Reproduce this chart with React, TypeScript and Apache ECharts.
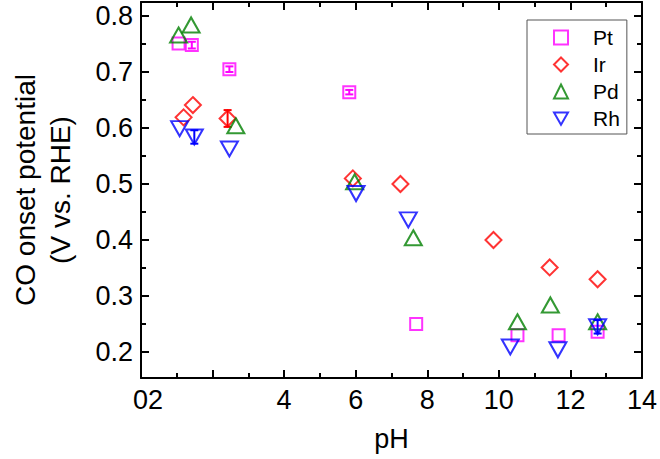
import React, { useEffect, useRef } from "react";
import * as echarts from "echarts";

const seriesNames = ["Pt", "Ir", "Pd", "Rh"];
const colors = ["#FF00FF", "#FF0000", "#008000", "#0000FF"];

const ptX = [1.05, 1.42, 2.47, 5.82, 7.69, 10.52, 11.67, 12.76];
const ptY = [0.751, 0.748, 0.705, 0.664, 0.25, 0.23, 0.23, 0.236];
const ptErr = [0, 0.006, 0.005, 0.004, 0, 0, 0, 0];

const irX = [1.19, 1.45, 2.42, 5.92, 7.25, 9.85, 11.42, 12.76];
const irY = [0.619, 0.641, 0.617, 0.51, 0.5, 0.4, 0.351, 0.33];
const irErr = [0, 0, 0.015, 0, 0, 0, 0, 0];

const pdX = [1.05, 1.4, 2.65, 5.97, 7.61, 10.52, 11.44, 12.76];
const pdY = [0.766, 0.784, 0.604, 0.504, 0.404, 0.254, 0.284, 0.254];
const pdErr = [0, 0, 0, 0, 0, 0, 0, 0];

const rhX = [1.08, 1.49, 2.47, 6.01, 7.47, 10.32, 11.65, 12.76];
const rhY = [0.599, 0.584, 0.5625, 0.483, 0.436, 0.209, 0.204, 0.245];
const rhErr = [0, 0.012, 0, 0, 0, 0, 0, 0.012];

const yMajorTicks = [0.2, 0.3, 0.4, 0.5, 0.6, 0.7, 0.8];
const yMinorTicks = [0.25, 0.35, 0.45, 0.55, 0.65, 0.75];

const FONT = "'Liberation Sans', Arial, sans-serif";

const symbols = [
  "rect",
  "diamond",
  "triangle",
  "path://M0,0L20,0L10,17.5Z",
];
const symbolSizes: any[] = [12, 16, [17, 15], [17, 15]];
const legendSymbols = ["rect", "diamond", "triangle", "path://M0,0L20,0L10,17.5Z"];

export default function App() {
  const ref = useRef<HTMLDivElement>(null);
  useEffect(() => {
    if (!ref.current) return;
    const chart = echarts.init(ref.current, undefined, { renderer: "svg" });
    const xs = [ptX, irX, pdX, rhX];
    const ys = [ptY, irY, pdY, rhY];
    const errs = [ptErr, irErr, pdErr, rhErr];

    const scatter = seriesNames.map((name, i) => ({
      name,
      type: "scatter",
      xAxisIndex: 0,
      yAxisIndex: 0,
      symbol: symbols[i],
      symbolSize: symbolSizes[i],
      itemStyle: { color: "transparent", borderColor: colors[i], borderWidth: 2 },
      data: xs[i].map((x, j) => [x, ys[i][j]]),
      z: 3 + i,
    }));

    const errSeries = seriesNames.map((name, i) => ({
      name: name + " err",
      type: "custom",
      xAxisIndex: 0,
      yAxisIndex: 0,
      z: 3 + i,
      data: xs[i]
        .map((x, j) => [x, ys[i][j], errs[i][j]])
        .filter((d) => d[2] > 0),
      renderItem: (params: any, api: any) => {
        const x = api.value(0);
        const y = api.value(1);
        const e = api.value(2);
        const top = api.coord([x, y + e]);
        const bot = api.coord([x, y - e]);
        const style = { stroke: colors[i], lineWidth: 2 };
        return {
          type: "group",
          children: [
            { type: "line", shape: { x1: top[0], y1: top[1], x2: bot[0], y2: bot[1] }, style },
            { type: "line", shape: { x1: top[0] - 4, y1: top[1], x2: top[0] + 4, y2: top[1] }, style },
            { type: "line", shape: { x1: bot[0] - 4, y1: bot[1], x2: bot[0] + 4, y2: bot[1] }, style },
          ],
        };
      },
    }));

    const lineStyle = { color: "#000", width: 2 };
    const yMin = 0.1536;
    const yMax = 0.825;

    chart.setOption({
      animation: false,
      backgroundColor: "#fff",
      textStyle: { fontFamily: FONT },
      grid: { left: 135, right: 15, top: 2, bottom: 81, containLabel: false },
      legend: {
        data: seriesNames.map((n, i) => ({ name: n, icon: legendSymbols[i] })),
        orient: "vertical",
        left: 527,
        top: 20,
        padding: [7, 7, 5, 26],
        itemWidth: 14,
        itemHeight: 14,
        itemGap: 6,
        borderColor: "#555",
        borderWidth: 1,
        itemStyle: { borderWidth: 2, color: "transparent" },
        textStyle: { fontSize: 21, color: "#000", fontFamily: FONT, padding: [0, 0, 0, 20] },
      },
      xAxis: [
        {
          type: "value",
          position: "bottom",
          min: 0,
          max: 14,
          interval: 2,
          name: "pH",
          nameLocation: "middle",
          nameGap: 47,
          nameTextStyle: { fontSize: 27, color: "#000", fontFamily: FONT },
          axisLine: { show: true, onZero: false, lineStyle },
          axisTick: { show: true, inside: true, length: 8, lineStyle },
          minorTick: { show: true, splitNumber: 2, length: 5, lineStyle: { color: "#000", width: 2 } },
          splitLine: { show: false },
          axisLabel: {
            fontSize: 27,
            color: "#000",
            margin: 8,
            fontFamily: FONT,
            formatter: (v: number) => (v === 0 ? "{a|02}" : v === 2 ? "" : String(v)),
            rich: { a: { fontSize: 27, color: "#000", fontFamily: FONT, padding: [0, 0, 0, 14] } },
          },
        },
        {
          type: "value",
          position: "top",
          min: 0,
          max: 14,
          interval: 2,
          axisLine: { show: true, onZero: false, lineStyle },
          axisTick: { show: true, inside: true, length: 8, lineStyle },
          minorTick: { show: true, splitNumber: 2, length: 5, lineStyle: { color: "#000", width: 2 } },
          splitLine: { show: false },
          axisLabel: { show: false },
        },
      ],
      yAxis: [
        {
          type: "value",
          position: "left",
          min: yMin,
          max: yMax,
          name: "CO onset potential\n(V vs. RHE)",
          nameLocation: "middle",
          nameGap: 63,
          nameTextStyle: { fontSize: 28, color: "#000", fontFamily: FONT, lineHeight: 35 },
          axisLine: { show: true, onZero: false, lineStyle },
          axisTick: { show: true, inside: true, length: 8, lineStyle, customValues: yMajorTicks },
          splitLine: { show: false },
          axisLabel: {
            fontSize: 27,
            color: "#000",
            margin: 8,
            fontFamily: FONT,
            customValues: yMajorTicks,
            formatter: (v: number) => v.toFixed(1),
          },
        },
        {
          type: "value",
          position: "left",
          min: yMin,
          max: yMax,
          axisLine: { show: false, onZero: false },
          axisTick: { show: true, inside: true, length: 5, lineStyle, customValues: yMinorTicks },
          splitLine: { show: false },
          axisLabel: { show: false },
        },
        {
          type: "value",
          position: "right",
          min: yMin,
          max: yMax,
          axisLine: { show: true, onZero: false, lineStyle },
          axisTick: { show: true, inside: true, length: 8, lineStyle, customValues: yMajorTicks },
          splitLine: { show: false },
          axisLabel: { show: false },
        },
        {
          type: "value",
          position: "right",
          min: yMin,
          max: yMax,
          axisLine: { show: false, onZero: false },
          axisTick: { show: true, inside: true, length: 5, lineStyle, customValues: yMinorTicks },
          splitLine: { show: false },
          axisLabel: { show: false },
        },
      ],
      series: [...errSeries, ...scatter],
    });
    return () => chart.dispose();
  }, []);
  return (
    <div
      ref={ref}
      style={{ position: "fixed", left: 0, top: 0, width: 660, height: 459 }}
    />
  );
}
